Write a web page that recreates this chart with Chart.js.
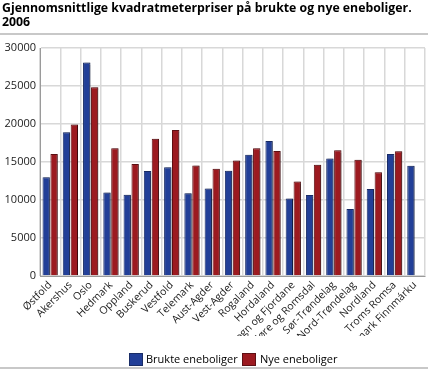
<!DOCTYPE html>
<html><head><meta charset="utf-8">
<script src="https://cdn.jsdelivr.net/npm/chart.js"></script>
<style>
html,body{margin:0;padding:0;background:#fff;width:428px;height:370px;overflow:hidden;font-family:"Open Sans",sans-serif;}
#title{position:absolute;left:2px;top:1px;font-weight:bold;font-size:12.3px;line-height:14px;color:#000;white-space:nowrap;}
#rule{position:absolute;left:0;top:33px;width:428px;height:2px;background:#c8c8c8;}
#rule2{position:absolute;left:0;top:367px;width:428px;height:2px;background:#c8c8c8;}
#wrap{position:absolute;left:0;top:0;width:428px;height:370px;}
.lg{position:absolute;top:353px;width:14px;height:13px;box-sizing:border-box;}
.lt{position:absolute;top:351px;font-size:11px;line-height:16px;color:#000;white-space:nowrap;}
</style></head>
<body>
<div id="wrap"><canvas id="c" width="428" height="370"></canvas></div>
<div id="title">Gjennomsnittlige kvadratmeterpriser på brukte og nye eneboliger.<br>2006</div>
<div id="rule"></div>
<div id="rule2"></div>
<div id="legend"></div>
<script>
const categories = ["Østfold","Akershus","Oslo","Hedmark","Oppland","Buskerud","Vestfold","Telemark","Aust-Agder","Vest-Agder","Rogaland","Hordaland","Sogn og Fjordane","Møre og Romsdal","Sør-Trøndelag","Nord-Trøndelag","Nordland","Troms Romsa","Finnmark Finnmárku"];
const brukte = [13000,18900,28100,11000,10700,13800,14300,10900,11500,13850,15950,17750,10200,10650,15450,8800,11450,16050,14500];
const nye = [16050,19950,24850,16800,14750,18050,19200,14550,14100,15200,16800,16450,12450,14650,16550,15300,13650,16400,null];
const yTicks = [0,5000,10000,15000,20000,25000,30000];
const seriesNames = ["Brukte eneboliger","Nye eneboliger"];
const fills = ['#223f98','#9c1a20'];
const edges = ['#1a2d66','#5e1014'];

// HTML legend
const lgX = [[129,146],[242,260]];
const lgEl = document.getElementById('legend');
seriesNames.forEach((n,i)=>{
  const b=document.createElement('div');b.className='lg';b.style.left=lgX[i][0]+'px';b.style.background=fills[i];b.style.border='1px solid '+edges[i];lgEl.appendChild(b);
  const t=document.createElement('div');t.className='lt';t.style.left=lgX[i][1]+'px';t.textContent=n;lgEl.appendChild(t);
});

const shadow = {
  id:'shadow',
  beforeDatasetsDraw(chart){const c=chart.ctx;c.save();c.shadowColor='rgba(0,0,0,0.35)';c.shadowOffsetX=1.5;c.shadowOffsetY=0;c.shadowBlur=1;},
  afterDatasetsDraw(chart){chart.ctx.restore();}
};

new Chart(document.getElementById('c'),{
  type:'bar',
  data:{labels:categories,datasets:seriesNames.map((n,i)=>({
    label:n,data:i===0?brukte:nye,backgroundColor:fills[i],borderColor:edges[i],borderWidth:1,categoryPercentage:0.78,barPercentage:0.93
  }))},
  plugins:[shadow],
  options:{
    responsive:false,animation:false,
    layout:{padding:{top:48,right:3,left:0,bottom:34}},
    plugins:{legend:{display:false},tooltip:{enabled:false},title:{display:false}},
    scales:{
      x:{
        grid:{color:'#d8d8d8',lineWidth:1.5,offset:true,drawTicks:false},
        border:{color:'#9a9a9a',width:1},
        ticks:{maxRotation:45,minRotation:45,autoSkip:false,color:'#222',font:{family:'Open Sans',size:10.5},padding:3},
        afterFit(a){a.height=60;}
      },
      y:{
        min:0,max:30000,
        afterBuildTicks(a){a.ticks=yTicks.map(v=>({value:v}));},
        grid:{color:'#d8d8d8',lineWidth:1.5,drawTicks:false},
        border:{color:'#9a9a9a',width:1},
        ticks:{color:'#222',font:{family:'Open Sans',size:11},padding:4,callback:v=>String(v)},
        afterFit(a){a.width=40;}
      }
    }
  }
});
</script>
</body></html>
